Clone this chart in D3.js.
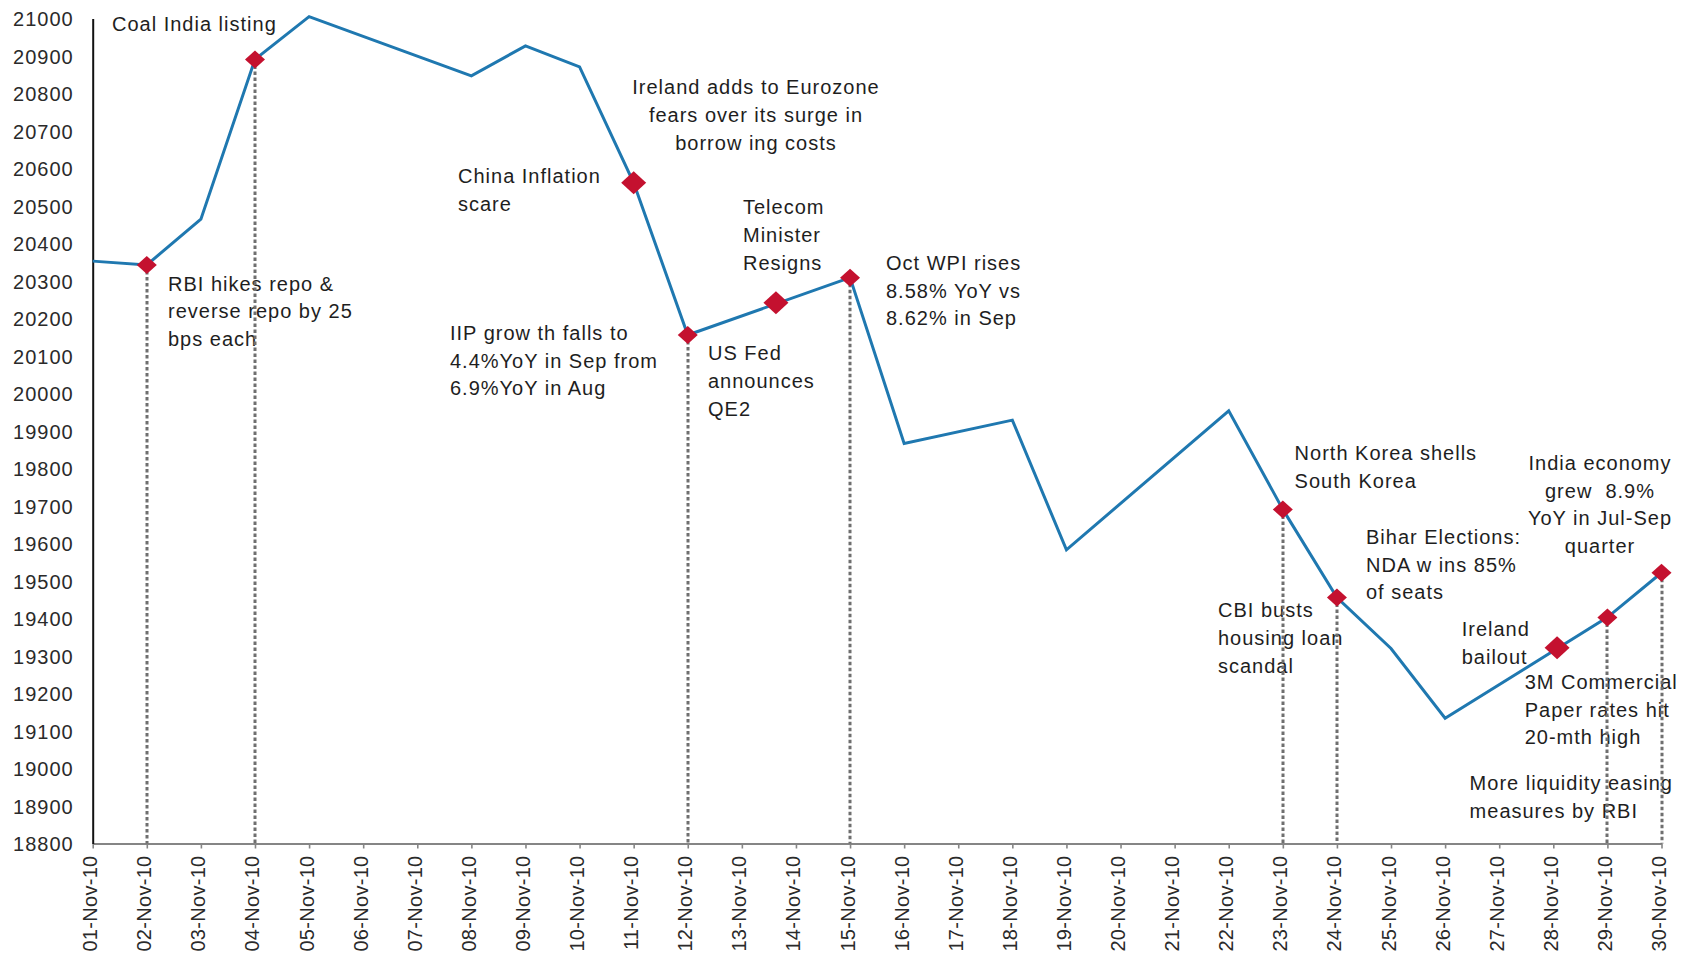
<!DOCTYPE html>
<html>
<head>
<meta charset="utf-8">
<title>Sensex – November 2010</title>
<script src="https://cdn.jsdelivr.net/npm/d3@7"></script>
<style>
  html, body { margin: 0; padding: 0; background: #ffffff; }
  svg { display: block; font-family: "Liberation Sans", Arial, Helvetica, sans-serif; }
  .notes text { white-space: pre; }
</style>
</head>
<body>
<svg id="chart" width="1690" height="956"></svg>
<script>
// ---- Data -------------------------------------------------------------
// Trading days of November 2010 and the index close on each of them
const tradingDays = [1, 2, 3, 4, 5, 8, 9, 10, 11, 12, 15, 16, 18, 19, 22, 23, 24, 25, 26, 29, 30];
const sensexClose = [20353, 20343, 20465, 20891, 21005, 20847, 20927, 20871, 20562, 20156,
                     20309, 19867, 19929, 19583, 19954, 19691, 19456, 19320, 19134, 19403, 19522];

// Calendar days shown on the x axis and their labels
const axisDays = d3.range(1, 31);
const axisDayLabels = [
  "01-Nov-10", "02-Nov-10", "03-Nov-10", "04-Nov-10", "05-Nov-10", "06-Nov-10",
  "07-Nov-10", "08-Nov-10", "09-Nov-10", "10-Nov-10", "11-Nov-10", "12-Nov-10",
  "13-Nov-10", "14-Nov-10", "15-Nov-10", "16-Nov-10", "17-Nov-10", "18-Nov-10",
  "19-Nov-10", "20-Nov-10", "21-Nov-10", "22-Nov-10", "23-Nov-10", "24-Nov-10",
  "25-Nov-10", "26-Nov-10", "27-Nov-10", "28-Nov-10", "29-Nov-10", "30-Nov-10"
];

// Index levels labelled on the y axis
const yTickValues = [18800, 18900, 19000, 19100, 19200, 19300, 19400, 19500, 19600, 19700, 19800,
                     19900, 20000, 20100, 20200, 20300, 20400, 20500, 20600, 20700, 20800, 20900, 21000];

// News events: day (fractional where the event fell between sessions) and index level
const eventDays   = [2, 4, 11, 12, 13.63, 15, 23, 24, 28.07, 29, 30];
const eventLevels = [20343, 20891, 20562, 20156, 20242, 20309, 19691, 19456, 19322, 19403, 19522];

// Event notes, one entry per text block
const eventNotes = [
  ["Coal India listing"],
  ["RBI hikes repo &", "reverse repo by 25", "bps each"],
  ["China Inflation", "scare"],
  ["Ireland adds to Eurozone", "fears over its surge in", "borrow ing costs"],
  ["Telecom", "Minister", "Resigns"],
  ["IIP grow th falls to", "4.4%YoY in Sep from", "6.9%YoY in Aug"],
  ["US Fed", "announces", "QE2"],
  ["Oct WPI rises", "8.58% YoY vs", "8.62% in Sep"],
  ["North Korea shells", "South Korea"],
  ["Bihar Elections:", "NDA w ins 85%", "of seats"],
  ["CBI busts", "housing loan", "scandal"],
  ["Ireland", "bailout"],
  ["India economy", "grew  8.9%", "YoY in Jul-Sep", "quarter"],
  ["3M Commercial", "Paper rates hit", "20-mth high"],
  ["More liquidity easing", "measures by RBI"]
];

// ---- Layout -----------------------------------------------------------
const svg = d3.select("#chart");
const plot = { left: 92.7, right: 1661.5, top: 18.5, bottom: 843.5 };

const x = d3.scaleLinear().domain([1, 30]).range([plot.left, plot.right]);
const y = d3.scaleLinear().domain([18800, 21000]).range([plot.bottom, plot.top]);

const textColor = "#1e1e1e";
const lineColor = "#1f78b0";
const markerColor = "#c4112f";
const dropColor = "#6f6f6f";

// Placement of each note block: anchor x, first-line vertical centre, alignment
const notePlacement = [
  { x: 112,    cy: 23.5,  anchor: "start" },
  { x: 168,    cy: 283.5, anchor: "start" },
  { x: 458,    cy: 176,   anchor: "start" },
  { x: 756,    cy: 87.3,  anchor: "middle" },
  { x: 743,    cy: 207,   anchor: "start" },
  { x: 450,    cy: 332.7, anchor: "start" },
  { x: 708,    cy: 353,   anchor: "start" },
  { x: 886,    cy: 262.7, anchor: "start" },
  { x: 1294.6, cy: 453.3, anchor: "start" },
  { x: 1366,   cy: 536.7, anchor: "start" },
  { x: 1218,   cy: 610,   anchor: "start" },
  { x: 1461.7, cy: 629.3, anchor: "start" },
  { x: 1600,   cy: 462.7, anchor: "middle" },
  { x: 1524.7, cy: 681.7, anchor: "start" },
  { x: 1469.6, cy: 783.3, anchor: "start" }
];
const noteLineHeight = 27.8;

// ---- Axes -------------------------------------------------------------
const xAxis = d3.axisBottom(x)
  .tickValues(axisDays)
  .tickSize(5)
  .tickSizeOuter(0)
  .tickFormat((d, i) => axisDayLabels[i]);

const gx = svg.append("g")
  .attr("transform", `translate(0,${plot.bottom})`)
  .call(xAxis);
gx.select(".domain").attr("stroke", "#858585").attr("stroke-width", 2);
gx.selectAll(".tick line").attr("stroke", "#858585").attr("stroke-width", 1.6);
gx.selectAll(".tick text")
  .attr("transform", "rotate(-90)")
  .attr("text-anchor", "end")
  .attr("x", -12)
  .attr("y", 0)
  .attr("dy", "0.2em")
  .attr("fill", "#2a2a2a")
  .style("font-size", "20px")
  .style("letter-spacing", "0.3px")
  .style("font-family", "\"Liberation Sans\", Arial, sans-serif");

const yAxis = d3.axisLeft(y)
  .tickValues(yTickValues)
  .tickSize(0)
  .tickSizeOuter(0)
  .tickPadding(19)
  .tickFormat(d3.format("d"));

const gy = svg.append("g")
  .attr("transform", `translate(${plot.left},0)`)
  .call(yAxis);
gy.select(".domain").attr("stroke", "#111").attr("stroke-width", 2);
gy.selectAll(".tick text")
  .attr("fill", "#2a2a2a")
  .attr("dy", "0.36em")
  .style("font-size", "20px")
  .style("letter-spacing", "1px")
  .style("font-family", "\"Liberation Sans\", Arial, sans-serif");

// ---- Event notes ------------------------------------------------------
const notes = svg.append("g").attr("class", "notes");
eventNotes.forEach((lines, i) => {
  const p = notePlacement[i];
  const t = notes.append("text")
    .attr("x", p.x)
    .attr("y", p.cy + 7)
    .attr("text-anchor", p.anchor)
    .attr("fill", textColor)
    .style("font-size", "20px")
    .style("letter-spacing", "1px");
  lines.forEach((line, j) => {
    t.append("tspan")
      .attr("x", p.x)
      .attr("dy", j === 0 ? 0 : noteLineHeight)
      .text(line);
  });
});

// ---- Drop lines from events down to the axis ---------------------------
const events = eventDays.map((d, i) => ({ day: d, level: eventLevels[i] }));
const droppedDays = new Set([2, 4, 12, 15, 23, 24, 29, 30]);
const crisp = v => Math.round(v);

svg.append("g")
  .selectAll("line")
  .data(events.filter(e => droppedDays.has(e.day)))
  .join("line")
  .attr("x1", d => crisp(x(d.day)))
  .attr("x2", d => crisp(x(d.day)))
  .attr("y1", d => y(d.level) + 6)
  .attr("y2", y(18800))
  .attr("stroke", dropColor)
  .attr("stroke-width", 3)
  .attr("stroke-dasharray", "3.5,2.5");

// ---- Index line -------------------------------------------------------
const series = tradingDays.map((d, i) => ({ day: d, level: sensexClose[i] }));
svg.append("path")
  .datum(series)
  .attr("fill", "none")
  .attr("stroke", lineColor)
  .attr("stroke-width", 3)
  .attr("stroke-linejoin", "miter")
  .attr("d", d3.line().x(d => x(d.day)).y(d => y(d.level)));

// ---- Event markers (diamonds) -----------------------------------------
const diamond = (hw, hh) => `M0,${-hh}L${hw},0L0,${hh}L${-hw},0Z`;
svg.append("g")
  .selectAll("path")
  .data(events)
  .join("path")
  .attr("transform", d => `translate(${x(d.day)},${y(d.level)})`)
  .attr("d", d => droppedDays.has(d.day) ? diamond(10, 9) : diamond(12.5, 11.5))
  .attr("fill", markerColor);
</script>
</body>
</html>
